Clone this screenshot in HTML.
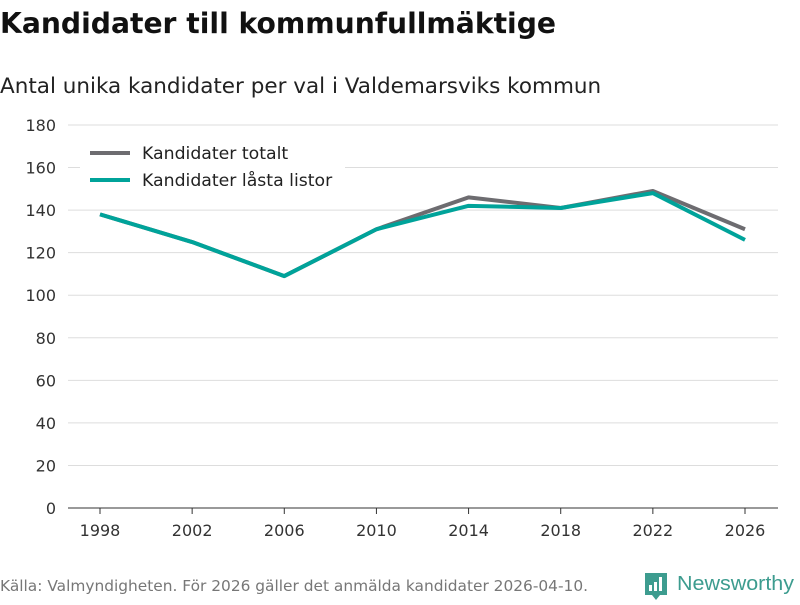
<!DOCTYPE html>
<html><head><meta charset="utf-8"><style>
body{margin:0;background:#fff;font-family:"Liberation Sans","DejaVu Sans",sans-serif;}
svg text{font-family:"DejaVu Sans","Liberation Sans",sans-serif;}
</style></head><body>
<svg id="chart" width="800" height="600" viewBox="0 0 800 600" xmlns="http://www.w3.org/2000/svg">
<text x="0" y="33" font-size="28.2" font-weight="bold" fill="#111">Kandidater till kommunfullmäktige</text>
<text x="0" y="93" font-size="21.5" fill="#222">Antal unika kandidater per val i Valdemarsviks kommun</text>
<g id="grid"></g>
<g id="xaxis"></g>
<g id="series"></g>
<g>
<rect x="80" y="138" width="265" height="62" fill="#fff"/>
<line x1="90" y1="153" x2="130" y2="153" stroke="#6d6c70" stroke-width="4"/>
<text x="142" y="159" font-size="17.3" fill="#222">Kandidater totalt</text>
<line x1="90" y1="180" x2="130" y2="180" stroke="#00a39a" stroke-width="4"/>
<text x="142" y="186" font-size="17.3" fill="#222">Kandidater låsta listor</text>
</g>
<text x="0" y="591" font-size="15.4" fill="#777">Källa: Valmyndigheten. För 2026 gäller det anmälda kandidater 2026-04-10.</text>
<g>
<path d="M645 573h22v22h-7l-4 5l-4-5h-7z" fill="#3d9c8f"/>
<rect x="649" y="585" width="3" height="6" fill="#fff"/><rect x="654" y="582" width="3" height="9" fill="#fff"/><rect x="659" y="577" width="3" height="14" fill="#fff"/>
<text x="677" y="590" font-size="20" fill="#3d9c8f" style="font-family:'Liberation Sans',sans-serif" textLength="117" lengthAdjust="spacingAndGlyphs">Newsworthy</text>
</g>
</svg>
<script>
const years=[1998,2002,2006,2010,2014,2018,2022,2026];
const totalt=[138,125,109,131,146,141,149,131];
const lasta=[138,125,109,131,142,141,148,126];
const yTicks=[0,20,40,60,80,100,120,140,160,180];
const NS="http://www.w3.org/2000/svg";
const x=v=>100+(v-1998)*(645/28);
const y=v=>508-v*(383/180);
function mk(t,a,p){const e=document.createElementNS(NS,t);for(const k in a)e.setAttribute(k,a[k]);p.appendChild(e);return e;}
const grid=document.getElementById('grid');
yTicks.forEach(t=>{
 const l=mk('line',{x1:68,x2:778,y1:y(t),y2:y(t),stroke:t===0?'#333':'#ddd','stroke-width':1},grid);
 
 
 const tx=mk('text',{x:56,y:y(t)+6,'text-anchor':'end','font-size':16,fill:'#333'},grid);
 tx.textContent=t;
 
 
});
const xa=document.getElementById('xaxis');
years.forEach(yr=>{
 const l=mk('line',{x1:x(yr),x2:x(yr),y1:508,y2:514,stroke:'#333'},xa);
 
 
 const tx=mk('text',{x:x(yr),y:536,'text-anchor':'middle','font-size':16,fill:'#333'},xa);
 tx.textContent=yr;
 
 
});
const s=document.getElementById('series');
[[totalt,'#6d6c70','line-totalt'],[lasta,'#00a39a','line-lasta']].forEach(([d,c,n])=>{
 const p=mk('polyline',{points:d.map((v,i)=>x(years[i])+','+y(v)).join(' '),fill:'none',stroke:c,'stroke-width':4,'stroke-linejoin':'round'},s);
 
 
});
</script>
</body></html>
